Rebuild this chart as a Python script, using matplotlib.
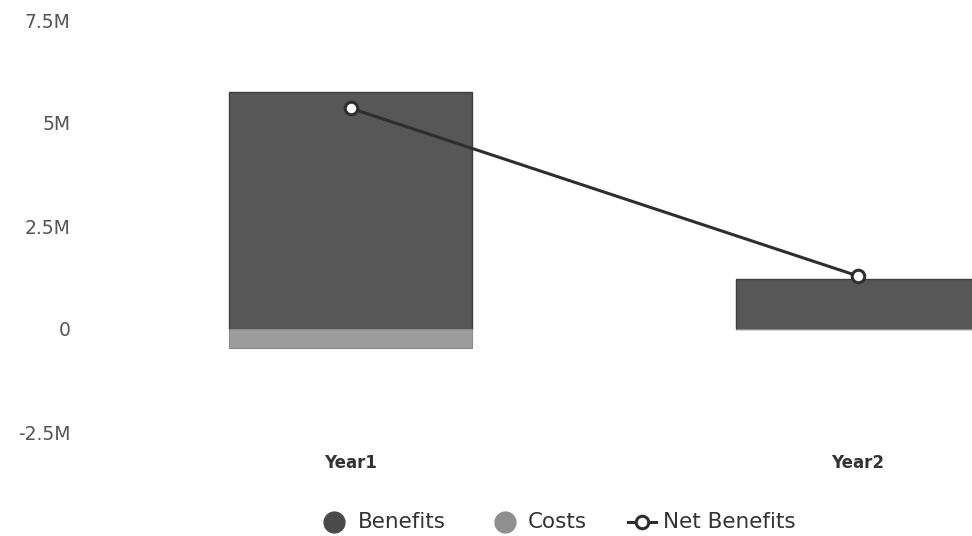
import matplotlib.pyplot as plt
import numpy as np

# Valores
categories = ["Year1", "Year2"]
benefits = [5.75e6, 1.22e6]
costs = [-0.46e6, 0.0]
net_benefits = [5.36e6, 1.29e6]
y_ticks = [-2.5e6, 0, 2.5e6, 5e6, 7.5e6]
y_tick_labels = ["-2.5M", "0", "2.5M", "5M", "7.5M"]

fig = plt.figure(figsize=(9.72, 5.36), dpi=100)
# eixo maior que a figura: a segunda barra fica cortada à direita
ax = fig.add_axes([97 / 972, 104 / 536, 1014 / 972, 412 / 536])

x = np.arange(len(categories))
ax.bar(x, benefits, width=0.48, color="#575757", edgecolor="#3f3f3f", linewidth=1)
ax.bar(x, costs, width=0.48, color="#9c9c9c", edgecolor="#8a8a8a", linewidth=0.8)
ax.plot(x, net_benefits, color="#2e2e2e", linewidth=2.2, marker="o",
        markersize=9, markerfacecolor="white", markeredgecolor="#2e2e2e",
        markeredgewidth=2.2, zorder=5)

ax.set_xlim(-0.5, 1.5)
ax.set_ylim(-2.5e6, 7.5e6)
ax.set_yticks(y_ticks)
ax.set_yticklabels(y_tick_labels, fontsize=13.5, color="#555555")
ax.set_xticks([])
for s in ax.spines.values():
    s.set_visible(False)
ax.tick_params(axis="y", length=0, pad=19)

for xi, name in zip(x, categories):
    ax.text(xi, -3.25e6, name, ha="center", va="center", fontsize=12,
            color="#333333", fontweight="bold")

# Legenda
leg_y = 1 - 522 / 536
fig.lines.append(plt.Line2D([334 / 972], [leg_y], marker="o", markersize=15,
                            color="#4a4a4a", transform=fig.transFigure))
fig.text(358 / 972, leg_y, "Benefits", fontsize=15.5, color="#333333", va="center")
fig.lines.append(plt.Line2D([505 / 972], [leg_y], marker="o", markersize=15,
                            color="#8f8f8f", transform=fig.transFigure))
fig.text(528 / 972, leg_y, "Costs", fontsize=15.5, color="#333333", va="center")
fig.lines.append(plt.Line2D([628 / 972, 656 / 972], [leg_y, leg_y], color="#2e2e2e",
                            linewidth=2.2, transform=fig.transFigure))
fig.lines.append(plt.Line2D([642 / 972], [leg_y], marker="o", markersize=9,
                            markerfacecolor="white", markeredgecolor="#2e2e2e",
                            markeredgewidth=2.2, transform=fig.transFigure))
fig.text(663 / 972, leg_y, "Net Benefits", fontsize=15.5, color="#333333", va="center")

fig.savefig("out.png", dpi=100)
